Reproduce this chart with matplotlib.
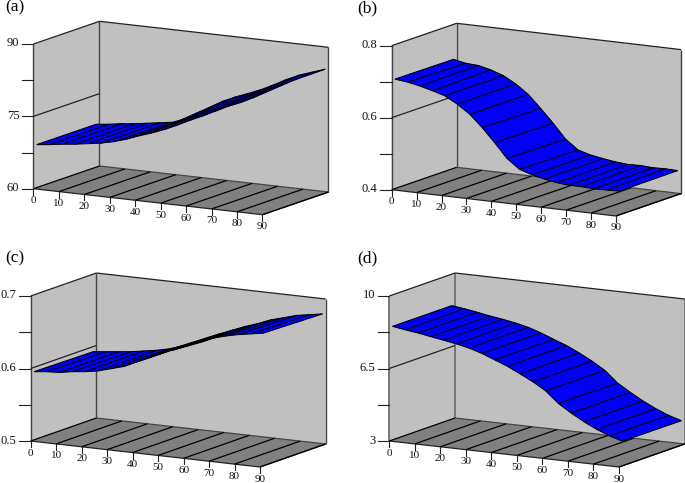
import numpy as np
import matplotlib
matplotlib.use('Agg')
import matplotlib.pyplot as plt
from matplotlib.collections import PolyCollection, LineCollection

plt.rcParams['font.family'] = ['Liberation Serif', 'DejaVu Serif']

# grid of the surfaces
x_vals = [0, 5, 10, 15, 20, 25, 30, 35, 40, 45, 50, 55, 60, 65, 70, 75, 80, 85, 90]
y_edges = [4.5, 85.5]
x_ticks = [0, 10, 20, 30, 40, 50, 60, 70, 80, 90]

# front and back edge of every surface
a_front = [68.9, 69.2, 69.6, 69.9, 70.3, 70.7, 71.3, 72.1, 73.1, 74.0, 75.0, 76.2, 77.5, 78.7, 80.0, 81.3, 82.4, 83.7, 85.6]
a_back = [68.9, 69.2, 69.6, 69.9, 70.3, 70.7, 71.1, 72.1, 73.2, 75.2, 76.7, 77.9, 78.9, 80.0, 81.3, 82.7, 83.9, 84.8, 85.7]
b_front = [0.704, 0.700, 0.693, 0.684, 0.674, 0.655, 0.631, 0.598, 0.560, 0.520, 0.494, 0.483, 0.475, 0.469, 0.466, 0.466, 0.464, 0.465, 0.466]
b_back = [0.703, 0.696, 0.694, 0.686, 0.674, 0.655, 0.630, 0.595, 0.558, 0.518, 0.492, 0.482, 0.476, 0.471, 0.468, 0.469, 0.467, 0.468, 0.467]
c_front = [0.594, 0.596, 0.597, 0.600, 0.602, 0.605, 0.610, 0.615, 0.623, 0.631, 0.641, 0.646, 0.653, 0.660, 0.668, 0.673, 0.677, 0.680, 0.683]
c_back = [0.593, 0.595, 0.597, 0.599, 0.602, 0.605, 0.609, 0.615, 0.622, 0.630, 0.638, 0.645, 0.652, 0.658, 0.665, 0.670, 0.675, 0.678, 0.681]
d_front = [8.48, 8.38, 8.30, 8.19, 8.09, 7.98, 7.85, 7.66, 7.42, 7.18, 6.88, 6.57, 6.20, 5.66, 5.27, 4.92, 4.62, 4.38, 4.19]
d_back = [8.48, 8.40, 8.30, 8.19, 8.10, 7.99, 7.85, 7.65, 7.41, 7.18, 6.89, 6.57, 6.19, 5.65, 5.27, 4.92, 4.62, 4.37, 4.18]

# z axes
a_z = [60, 67.5, 75, 82.5, 90]
b_z = [0.4, 0.5, 0.6, 0.7, 0.8]
c_z = [0.5, 0.55, 0.6, 0.65, 0.7]
d_z = [3, 4.75, 6.5, 8.25, 10]
a_lab = ['60', '', '75', '', '90']
b_lab = ['0.4', '', '0.6', '', '0.8']
c_lab = ['0.5', '', '0.6', '', '0.7']
d_lab = ['3', '', '6.5', '', '10']

WALL = '#c0c0c0'
FLOOR = '#808080'
BLUE = '#0000f5'
LINE = '#222222'


def panel(ax, name, title_xy, origin, xvec, dvec, height, z_ticks, z_labels, front, back, edge='#444444', edge_lw=1.0):
    z0, z1 = z_ticks[0], z_ticks[-1]

    def proj(x, y, z):
        fx = np.asarray(x, dtype=float) / 90
        fy = np.asarray(y, dtype=float) / 90
        fz = (np.asarray(z, dtype=float) - z0) / (z1 - z0)
        return (origin[0] + fx * xvec[0] + fy * dvec[0],
                origin[1] + fx * xvec[1] + fy * dvec[1] - fz * height)

    def poly(corners):
        return [proj(*c) for c in corners]

    # walls and floor
    ax.fill(*zip(*poly([(0, 0, z0), (0, 90, z0), (0, 90, z1), (0, 0, z1)])), fc=WALL, ec='none', zorder=1)
    ax.fill(*zip(*poly([(0, 90, z0), (90, 90, z0), (90, 90, z1), (0, 90, z1)])), fc=WALL, ec='none', zorder=1)
    ax.fill(*zip(*poly([(0, 0, z0), (90, 0, z0), (90, 90, z0), (0, 90, z0)])), fc=FLOOR, ec='none', zorder=2)

    def seg(p, q, color=LINE, lw=0.9):
        a, b = proj(*p), proj(*q)
        ax.plot([a[0], b[0]], [a[1], b[1]], color=color, lw=lw, solid_capstyle='butt', zorder=3)

    seg((0, 0, z0), (0, 0, z1), edge, edge_lw)
    seg((0, 90, z0), (0, 90, z1), edge, edge_lw)
    seg((90, 90, z0), (90, 90, z1), edge, edge_lw)
    seg((0, 90, z1), (90, 90, z1))
    seg((0, 90, z0), (90, 90, z0), '#444444')
    seg((0, 0, z0), (90, 0, z0))
    seg((90, 0, z0), (90, 90, z0))
    seg((0, 0, z1), (0, 90, z1))

    # floor lines, ticks and labels of the x axis
    for t in x_ticks:
        seg((t, 0, z0), (t, 90, z0), 'black', 0.9)
        px, py = proj(t, 0, z0)
        ax.plot([px, px], [py, py + 6], color=LINE, lw=0.8, zorder=3)
        ax.text(px, py + 12, str(t), ha='center', va='center', fontsize=8, color='#111111')

    # z axis ticks, labels and the line across the left wall
    for t, lab in zip(z_ticks, z_labels):
        px, py = proj(0, 0, t)
        ax.plot([px - 11.5, px], [py, py], color=LINE, lw=0.8, zorder=3)
        if lab:
            ax.text(px - 14, py - 0.5, lab, ha='right', va='center', fontsize=9, color='#111111', clip_on=False)
    seg((0, 0, z_ticks[2]), (0, 90, z_ticks[2]))

    # surface: blue cells, then each grid line once
    quads = []
    for i in range(len(x_vals) - 1):
        xs = [x_vals[i], x_vals[i + 1], x_vals[i + 1], x_vals[i]]
        ys = [y_edges[0], y_edges[0], y_edges[1], y_edges[1]]
        zs = [front[i], front[i + 1], back[i + 1], back[i]]
        px, py = proj(xs, ys, zs)
        quads.append(np.column_stack([px, py]))
    ax.add_collection(PolyCollection(quads, facecolors=BLUE, edgecolors=BLUE, linewidths=0.2, zorder=4))

    fx, fy = proj(x_vals, y_edges[0], front)
    bx, by = proj(x_vals, y_edges[1], back)
    lines = [np.column_stack([fx, fy]), np.column_stack([bx, by])]
    for i in range(len(x_vals)):
        lines.append([(fx[i], fy[i]), (bx[i], by[i])])
    ax.add_collection(LineCollection(lines, colors='black', linewidths=0.75, zorder=5))

    ax.text(title_xy[0], title_xy[1], name, ha='left', va='center', fontsize=12.5, color='black')


fig = plt.figure(figsize=(6.85, 4.83), dpi=100)
ax = fig.add_axes([0, 0, 1, 1])
ax.set_xlim(0, 685)
ax.set_ylim(483, 0)
ax.axis('off')

panel(ax, '(a)', (5, 7), (33.5, 188.7), (229, 26), (66, -22.7), 144.7, a_z, a_lab, a_front, a_back)
panel(ax, '(b)', (357, 8), (391.7, 189.7), (224.3, 26.3), (65, -22.4), 144, b_z, b_lab, b_front, b_back)
panel(ax, '(c)', (5, 258), (30.7, 441), (229.3, 26), (65.7, -23), 145, c_z, c_lab, c_front, c_back)
panel(ax, '(d)', (357, 258), (389.3, 441), (229.7, 26), (65.7, -23), 145, d_z, d_lab, d_front, d_back, edge='#777777', edge_lw=1.4)

fig.savefig('out.png', dpi=100)
